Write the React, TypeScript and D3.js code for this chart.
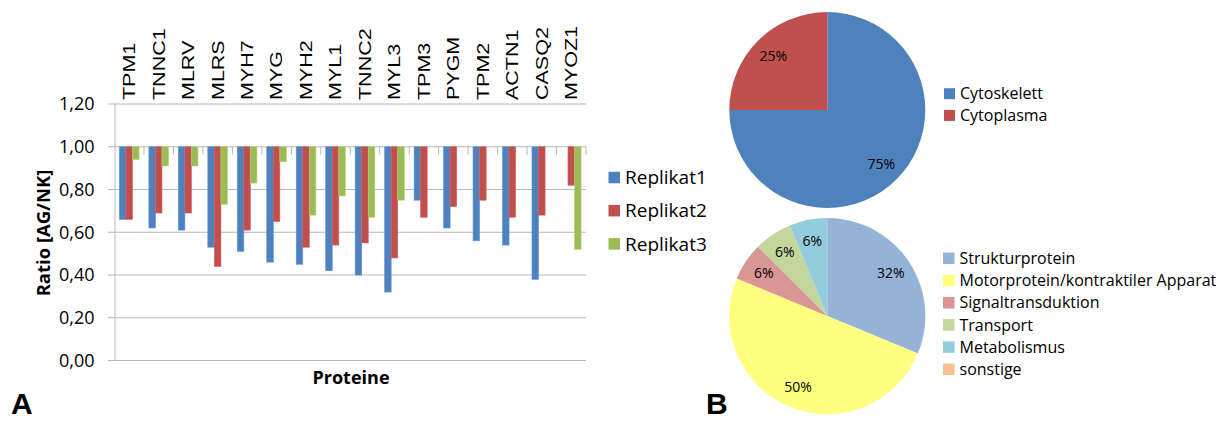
import React from "react";
import * as d3 from "d3";

const proteins = ["TPM1","TNNC1","MLRV","MLRS","MYH7","MYG","MYH2","MYL1","TNNC2","MYL3","TPM3","PYGM","TPM2","ACTN1","CASQ2","MYOZ1"];
const seriesNames = ["Replikat1","Replikat2","Replikat3"];
const replikat1 = [0.66,0.62,0.61,0.53,0.51,0.46,0.45,0.42,0.40,0.32,0.75,0.62,0.56,0.54,0.38,null];
const replikat2 = [0.66,0.69,0.69,0.44,0.61,0.65,0.53,0.54,0.55,0.48,0.67,0.72,0.75,0.67,0.68,0.82];
const replikat3 = [0.94,0.91,0.91,0.73,0.83,0.93,0.68,0.77,0.67,0.75,null,null,null,null,null,0.52];
const seriesColors = ["#4F81BD","#C0504D","#9BBB59"];
const yTicks = [0,0.2,0.4,0.6,0.8,1.0,1.2];

const locLabels = ["Cytoskelett","Cytoplasma"];
const locCounts = [12,4];
const locPctLabels = ["75%","25%"];
const locColors = ["#4F81BD","#C0504D"];

const funcLabels = ["Strukturprotein","Motorprotein/kontraktiler Apparat","Signaltransduktion","Transport","Metabolismus","sonstige"];
const funcCounts = [5,8,1,1,1,0];
const funcPctLabels = ["32%","50%","6%","6%","6%",""];
const funcColors = ["#95B3D7","#FFFF80","#D99694","#C3D69B","#93CDDD","#FAC090"];

const fmt = d3.formatLocale({decimal:",",thousands:".",grouping:[3],currency:["","€"]}).format(".2f");
const SANS = "'Open Sans', sans-serif";

function Pie({cx, cy, r, counts, colors, pcts}) {
  const arcs = d3.pie<number>().sort(null).value(d => d)(counts);
  const arc = d3.arc<any>().innerRadius(0).outerRadius(r);
  const lab = d3.arc<any>().innerRadius(r * 0.78).outerRadius(r * 0.78);
  return (
    <g transform={`translate(${cx},${cy})`}>
      {arcs.map((a, i) => a.value > 0 ? <path key={i} d={arc(a) as string} fill={colors[i]} /> : null)}
      {arcs.map((a, i) => {
        if (!pcts[i]) return null;
        const [x, y] = lab.centroid(a);
        return <text key={"t"+i} x={x} y={y} dy="0.35em" textAnchor="middle" fontFamily={SANS} fontSize={14} fill="#000">{pcts[i]}</text>;
      })}
    </g>
  );
}

function Legend({x, y, step, labels, colors, size, fontSize}) {
  return (
    <g>
      {labels.map((l, i) => (
        <g key={l} transform={`translate(${x},${y + i * step})`}>
          <rect x={0} y={-size / 2} width={size} height={size} fill={colors[i]} />
          <text x={size + 5} y={0} dy="0.35em" fontFamily={SANS} fontSize={fontSize} fill="#000">{l}</text>
        </g>
      ))}
    </g>
  );
}

export default function App() {
  const x0 = 114.5, x1 = 586;
  const yScale = d3.scaleLinear().domain([0, 1.2]).range([360.5, 104]);
  const xScale = d3.scaleBand().domain(proteins).range([x0, x1]).padding(0);
  const bw = xScale.bandwidth();
  const gap = bw * 1.5 / 4.5 / 2;
  const inner = d3.scaleBand().domain(seriesNames).range([gap, bw - gap]).padding(0);
  const series = [replikat1, replikat2, replikat3];
  const grid = "#B9B9B9";
  const base = yScale(1.0);

  return (
    <svg width={1223} height={421} style={{position: "absolute", left: 0, top: 0, background: "#fff"}}>
      <rect x={0} y={0} width={1223} height={421} fill="#fff" />
      {yTicks.map(t => (
        <g key={t}>
          <line x1={108} x2={x1} y1={yScale(t)} y2={yScale(t)} stroke={grid} strokeWidth={1} />
          <text x={94.5} y={yScale(t)} dy="0.35em" textAnchor="end" fontFamily={SANS} fontSize={18} fill="#000">{fmt(t)}</text>
        </g>
      ))}
      <line x1={x0 + 0.5} x2={x0 + 0.5} y1={yScale(1.2)} y2={yScale(0)} stroke={grid} />
      {proteins.map((p) => (
        <line key={p} x1={(xScale(p) as number) + bw} x2={(xScale(p) as number) + bw} y1={base} y2={base + 8} stroke={grid} />
      ))}
      {series.map((s, si) => s.map((v, i) => {
        if (v == null) return null;
        const bx = (xScale(proteins[i]) as number) + (inner(seriesNames[si]) as number);
        return <rect key={si + "-" + i} x={bx} y={base} width={inner.bandwidth()} height={yScale(v) - base} fill={seriesColors[si]} stroke={d3.color(seriesColors[si])!.brighter(0.4).toString()} strokeWidth={0.6} />;
      }))}
      {proteins.map(p => (
        <text key={p} transform={`translate(${(xScale(p) as number) + bw / 2},100) rotate(-90) scale(1,0.78)`} dy="0.35em" textAnchor="start" fontFamily="'Liberation Sans', Arial, sans-serif" fontSize={21.5} fill="#000">{p}</text>
      ))}
      <text transform="translate(50,233) rotate(-90)" textAnchor="middle" fontFamily={SANS} fontWeight="bold" fontSize={18.5} fill="#000">Ratio [AG/NK]</text>
      <text x={351} y={384} textAnchor="middle" fontFamily={SANS} fontWeight="bold" fontSize={18} fill="#000">Proteine</text>
      <Legend x={608.5} y={177.5} step={33.2} labels={seriesNames} colors={seriesColors} size={11.5} fontSize={19} />
      <text x={11} y={414} fontFamily="'Liberation Sans', Arial, sans-serif" fontWeight="bold" fontSize={30} fill="#000">A</text>

      <Pie cx={827.3} cy={110} r={98} counts={locCounts} colors={locColors} pcts={locPctLabels} />
      <Legend x={944} y={93.7} step={21.7} labels={locLabels} colors={locColors} size={11} fontSize={16} />
      <Pie cx={827.3} cy={316} r={98} counts={funcCounts} colors={funcColors} pcts={funcPctLabels} />
      <Legend x={943} y={258.3} step={22.2} labels={funcLabels} colors={funcColors} size={11.5} fontSize={16} />
      <text x={706} y={414} fontFamily="'Liberation Sans', Arial, sans-serif" fontWeight="bold" fontSize={30} fill="#000">B</text>
    </svg>
  );
}
